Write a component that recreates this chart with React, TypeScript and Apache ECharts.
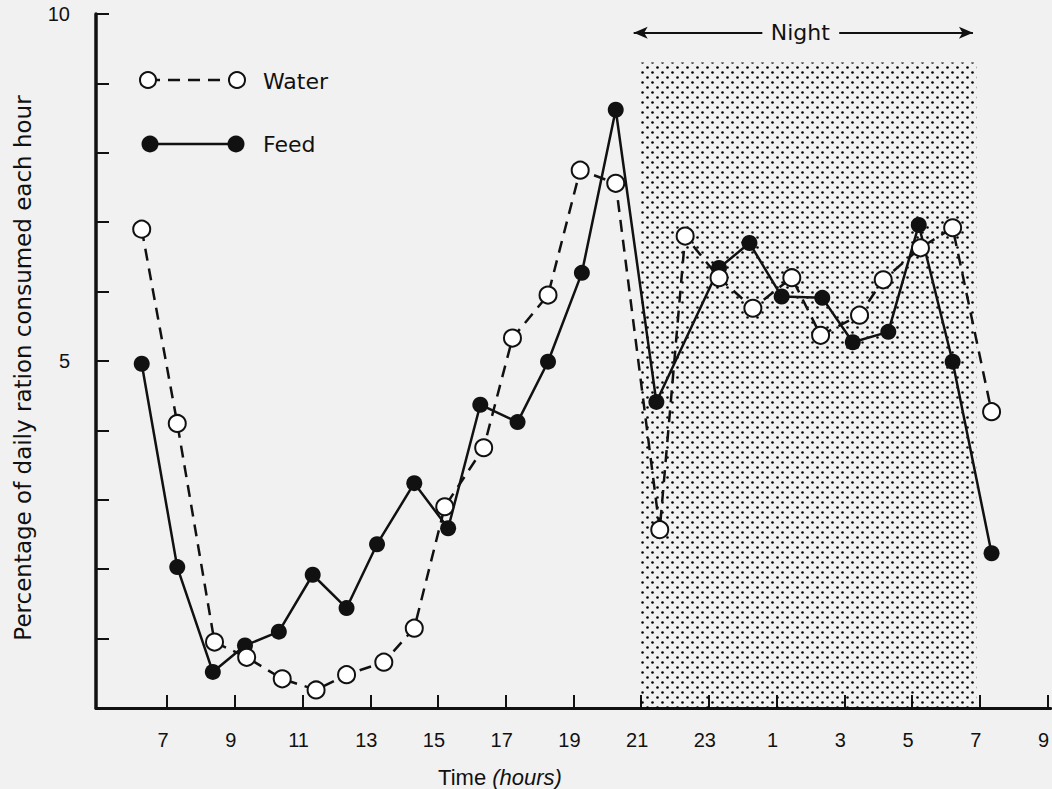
import React, { useEffect, useRef } from "react";
import * as echarts from "echarts";

// ---- data ----
const waterTimes = [6.25, 7.3, 8.4, 9.35, 10.4, 11.4, 12.3, 13.4, 14.3, 15.2, 16.35, 17.2, 18.25, 19.2, 20.25, 21.55, 22.3, 23.3, 24.3, 25.45, 26.3, 27.45, 28.15, 29.25, 30.2, 31.35];
const waterValues = [6.9, 4.1, 0.95, 0.73, 0.42, 0.26, 0.48, 0.66, 1.15, 2.9, 3.75, 5.33, 5.95, 7.75, 7.56, 2.57, 6.8, 6.2, 5.76, 6.2, 5.37, 5.66, 6.17, 6.63, 6.92, 4.27];
const feedTimes = [6.25, 7.3, 8.35, 9.3, 10.3, 11.3, 12.3, 13.2, 14.3, 15.3, 16.25, 17.35, 18.25, 19.25, 20.25, 21.45, 23.3, 24.2, 25.15, 26.35, 27.25, 28.3, 29.2, 30.2, 31.35];
const feedValues = [4.96, 2.03, 0.52, 0.9, 1.1, 1.92, 1.44, 2.36, 3.24, 2.59, 4.37, 4.12, 4.99, 6.27, 8.62, 4.41, 6.34, 6.7, 5.93, 5.91, 5.27, 5.42, 6.96, 4.99, 2.23];
const xTickHours = [7, 9, 11, 13, 15, 17, 19, 21, 23, 25, 27, 29, 31, 33];
const yTickValues = [1, 2, 3, 4, 5, 6, 7, 8, 9, 10];
const yLabelValues = [5, 10];
const nightStart = 21;
const nightEnd = 30.9;
const nightTop = 9.3;
const nightArrowY = 9.73;
const nightLeftArrow = [24.58, 20.78];
const nightRightArrow = [26.85, 30.8];
const nightLabelX = 25.7;

const INK = "#111111";

function makeStipple(): HTMLCanvasElement {
  const c = document.createElement("canvas");
  c.width = 10;
  c.height = 10;
  const ctx = c.getContext("2d")!;
  ctx.fillStyle = "#000000";
  [[2.5, 2.5], [7.5, 7.5]].forEach(([x, y]) => {
    ctx.beginPath();
    ctx.arc(x, y, 1.3, 0, Math.PI * 2);
    ctx.fill();
  });
  return c;
}

export default function App() {
  const ref = useRef<HTMLDivElement>(null);

  useEffect(() => {
    if (!ref.current) return;
    const chart = echarts.init(ref.current, null, { renderer: "svg" });
    const stipple = makeStipple();

    const option: any = {
      animation: false,
      backgroundColor: "#f1f1f1",
      grid: { left: 96, top: 14, bottom: 81, right: -10, containLabel: false },
      xAxis: {
        type: "value",
        min: 4.9,
        max: 33.1,
        splitLine: { show: false },
        axisLine: { show: true, lineStyle: { color: INK, width: 3 } },
        axisTick: {
          show: true,
          inside: true,
          length: 13,
          customValues: xTickHours,
          lineStyle: { color: INK, width: 2 },
        },
        axisLabel: {
          show: true,
          customValues: xTickHours,
          margin: 22,
          color: INK,
          fontFamily: "Liberation Sans",
          fontSize: 20,
          padding: [0, 8, 0, 0],
          formatter: (v: number) => String(v > 24 ? v - 24 : v),
        },
      },
      yAxis: {
        type: "value",
        min: 0,
        max: 10,
        splitLine: { show: false },
        axisLine: { show: true, lineStyle: { color: INK, width: 3.5 } },
        axisTick: {
          show: true,
          inside: true,
          length: 13,
          customValues: yTickValues,
          lineStyle: { color: INK, width: 2 },
        },
        axisLabel: {
          show: true,
          customValues: yLabelValues,
          margin: 26,
          color: INK,
          fontFamily: "Liberation Sans",
          fontSize: 20,
          padding: [8, 0, 0, 0],
        },
      },
      series: [
        {
          name: "Feed",
          type: "line",
          z: 2,
          data: feedTimes.map((t, i) => [t, feedValues[i]]),
          symbol: "circle",
          symbolSize: 16,
          itemStyle: { color: INK },
          lineStyle: { color: INK, width: 2.5 },
          markArea: {
            silent: true,
            z: 1,
            itemStyle: {
              color: { image: stipple, repeat: "repeat" },
              opacity: 1,
              borderWidth: 0,
            },
            data: [[{ coord: [nightStart, 0] }, { coord: [nightEnd, nightTop] }]],
          },
          markLine: {
            silent: true,
            symbol: ["none", "arrow"],
            symbolSize: [9, 14],
            lineStyle: { color: INK, width: 2, type: "solid" },
            label: { show: false },
            data: [
              [{ coord: [nightLeftArrow[0], nightArrowY] }, { coord: [nightLeftArrow[1], nightArrowY] }],
              [{ coord: [nightRightArrow[0], nightArrowY] }, { coord: [nightRightArrow[1], nightArrowY] }],
            ],
          },
          markPoint: {
            silent: true,
            symbol: "circle",
            symbolSize: 1,
            itemStyle: { color: "rgba(0,0,0,0)" },
            label: {
              show: true,
              position: "inside",
              formatter: "Night",
              color: INK,
              fontFamily: "DejaVu Sans",
              fontSize: 22,
            },
            data: [{ coord: [nightLabelX, nightArrowY] }],
          },
        },
        {
          name: "Water",
          type: "line",
          z: 3,
          data: waterTimes.map((t, i) => [t, waterValues[i]]),
          symbol: "circle",
          symbolSize: 17,
          itemStyle: { color: "#ffffff", borderColor: INK, borderWidth: 2 },
          lineStyle: { color: INK, width: 2.5, type: [12, 8] },
        },
      ],
      graphic: [
        {
          type: "text",
          x: 23,
          y: 368,
          rotation: Math.PI / 2,
          style: {
            text: "Percentage of daily ration consumed each hour",
            fill: INK,
            fontFamily: "DejaVu Sans",
            fontSize: 23,
            align: "center",
            verticalAlign: "middle",
            textAlign: "center",
            textVerticalAlign: "middle",
          },
        },
        {
          type: "text",
          x: 500,
          y: 777,
          style: {
            text: "{a|Time }{b|(hours)}",
            fill: INK,
            align: "center",
            verticalAlign: "middle",
            textAlign: "center",
            textVerticalAlign: "middle",
            rich: {
              a: { fontFamily: "Liberation Sans", fontSize: 22, fill: INK },
              b: { fontFamily: "Liberation Sans", fontSize: 22, fontStyle: "italic", fill: INK },
            },
          },
        },
        // legend: water
        {
          type: "line",
          z: 10,
          shape: { x1: 148, y1: 80, x2: 237, y2: 80 },
          style: { stroke: INK, lineWidth: 2.5, lineDash: [12, 8] },
        },
        { type: "circle", z: 11, shape: { cx: 148, cy: 80, r: 8 }, style: { fill: "#fff", stroke: INK, lineWidth: 2 } },
        { type: "circle", z: 11, shape: { cx: 237, cy: 80, r: 8 }, style: { fill: "#fff", stroke: INK, lineWidth: 2 } },
        {
          type: "text",
          z: 11,
          x: 263,
          y: 81,
          style: { text: "Water", fill: INK, fontFamily: "DejaVu Sans", fontSize: 22, verticalAlign: "middle", textVerticalAlign: "middle" },
        },
        // legend: feed
        {
          type: "line",
          z: 10,
          shape: { x1: 150, y1: 144, x2: 236, y2: 144 },
          style: { stroke: INK, lineWidth: 2.5 },
        },
        { type: "circle", z: 11, shape: { cx: 150, cy: 144, r: 8.5 }, style: { fill: INK } },
        { type: "circle", z: 11, shape: { cx: 236, cy: 144, r: 8.5 }, style: { fill: INK } },
        {
          type: "text",
          z: 11,
          x: 263,
          y: 144,
          style: { text: "Feed", fill: INK, fontFamily: "DejaVu Sans", fontSize: 22, verticalAlign: "middle", textVerticalAlign: "middle" },
        },
      ],
    };

    chart.setOption(option);
    return () => chart.dispose();
  }, []);

  return (
    <div
      ref={ref}
      style={{ position: "fixed", left: 0, top: 0, width: 1052, height: 789 }}
    />
  );
}
